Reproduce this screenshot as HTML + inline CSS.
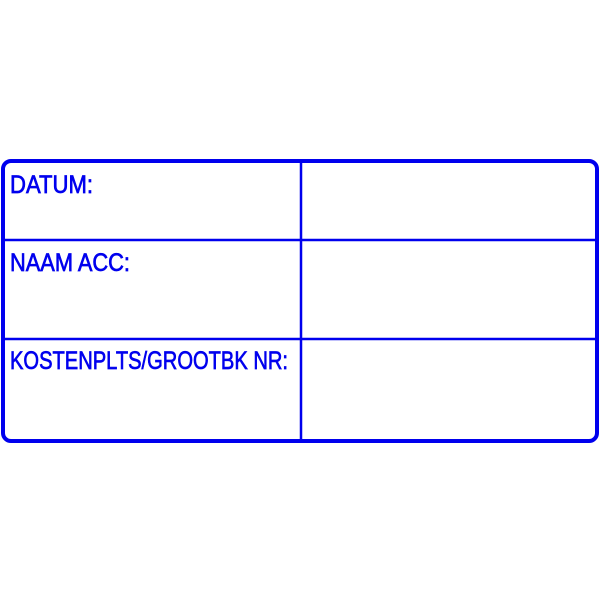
<!DOCTYPE html>
<html><head><style>html,body{margin:0;padding:0;background:#fff;}</style></head>
<body>
<svg width="600" height="600" viewBox="0 0 600 600" xmlns="http://www.w3.org/2000/svg">
<rect x="3" y="161" width="594" height="280" rx="8" ry="8" fill="none" stroke="#0000ee" stroke-width="4"/>
<line x1="301" y1="161" x2="301" y2="441" stroke="#0000ee" stroke-width="2.5"/>
<line x1="3" y1="240" x2="597" y2="240" stroke="#0000ee" stroke-width="2.5"/>
<line x1="3" y1="339" x2="597" y2="339" stroke="#0000ee" stroke-width="2.5"/>
<g font-family="Liberation Sans, sans-serif" font-size="25" fill="#0000ee" stroke="#0000ee" stroke-width="0.7">
<text x="10" y="193" textLength="83" lengthAdjust="spacingAndGlyphs">DATUM:</text>
<text x="10" y="271" textLength="120" lengthAdjust="spacingAndGlyphs">NAAM ACC:</text>
<text x="10" y="369" textLength="278" lengthAdjust="spacingAndGlyphs">KOSTENPLTS/GROOTBK NR:</text>
</g>
</svg>
</body></html>
